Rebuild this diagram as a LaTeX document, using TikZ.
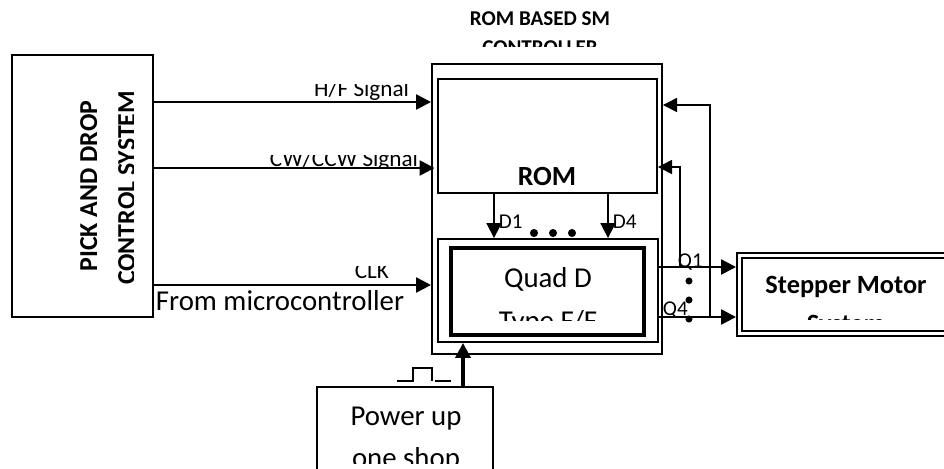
\documentclass[tikz,border=0pt]{standalone}
\usepackage{fontspec}
\setmainfont{Carlito}
\usetikzlibrary{arrows.meta, fit}
\tikzset{
  every picture/.style={line width=1.1pt, x=0.02cm, y=-0.02cm},
  blk/.style={draw, inner sep=0pt, line width=#1},
  blk/.default=1.1pt,
  sig/.style={-{Triangle[length=8.5pt, width=8.5pt]}, line width=1.4pt},
  fback/.style={-{Triangle[length=8pt, width=8pt]}, line width=0.8pt},
  txt/.style={font=\fontsize{#1}{#1}\selectfont, inner sep=0pt},
  btxt/.style={font=\fontsize{#1}{#1}\selectfont\bfseries, inner sep=0pt},
}

\begin{document}
\begin{tikzpicture}
  \useasboundingbox (0,0) rectangle (944,468);
  \clip (0,0) rectangle (944,468);
  % blocks
  \node[blk, fit={(12,55) (153,317)}] (pick) {};
  \node[blk, fit={(432,64) (662,354)}] (ctrl) {};
  \node[blk, fit={(438,79) (657,193)}] (rom) {};
  \node[blk, fit={(438,239) (658,342)}] (ffout) {};
  \node[blk=2.3pt, fit={(451,248) (644,335)}] (ff) {};
  \node[blk, fit={(737,253) (990,336)}] (motor) {};
  \node[blk, fit={(742,258) (985,331)}] (motorin) {};
  \node[blk=0.9pt, fit={(317,387) (493,490)}] (power) {};
  % texts
  \node[btxt=12, anchor=base] (ttl) at (540,25) {ROM BASED SM};
  \begin{scope}
    \clip (400,30) rectangle (700,46);
    \node[btxt=12, anchor=base] (ttlb) at (540,54) {CONTROLLER};
  \end{scope}
  \node[btxt=14.7, anchor=base, rotate=90] (pickt) at (97,186) {PICK AND DROP};
  \begin{scope}
    \clip (100,60) rectangle (133,310);
    \node[btxt=14.7, anchor=base, rotate=90] (pickb) at (135,188) {CONTROL SYSTEM};
  \end{scope}
  \node[btxt=15.8, anchor=base] (romt) at (547,185) {ROM};
  \node[txt=16.4, anchor=base] (fft) at (548,287) {Quad D};
  \begin{scope}
    \clip (460,300) rectangle (640,320);
    \node[txt=16.4, anchor=base] (ffb) at (548,330) {Type F/F};
  \end{scope}
  \node[btxt=15, anchor=base] (motort) at (846,293) {Stepper Motor};
  \begin{scope}
    \clip (750,305) rectangle (940,319.5);
    \node[btxt=15, anchor=base] (motorb) at (846,332) {System};
  \end{scope}
  \node[txt=16.4, anchor=base] (powert) at (406,425) {Power up};
  \begin{scope}
    \clip (330,440) rectangle (480,463);
    \node[txt=16.4, anchor=base] (powerb) at (406,467) {one shop};
  \end{scope}
  \begin{scope}
    \clip (250,84) rectangle (430,101);
    \node[txt=13.2, anchor=base east] (hf) at (410,96) {H/F Signal};
  \end{scope}
  \begin{scope}
    \clip (250,155) rectangle (430,167);
    \node[txt=13.2, anchor=base east] (cw) at (419,166) {CW/CCW Signal};
  \end{scope}
  \begin{scope}
    \clip (340,266) rectangle (400,284);
    \node[txt=13.2, anchor=base east] (clk) at (390,278) {CLK};
  \end{scope}
  \node[txt=16.4, anchor=base west] (from) at (155,310) {From microcontroller};
  \node[txt=12, anchor=base west] (d1) at (498,228) {D1};
  \node[txt=12, anchor=base west] (d4) at (612,228) {D4};
  \node[txt=12, anchor=base west] (q1) at (677,267) {Q1};
  \node[txt=12, anchor=base west] (q4) at (662,315) {Q4};
  % connectors
  \draw[sig] (pick.east |- 0,102) -- (ctrl.west |- 0,102);
  \draw[sig] (pick.east |- 0,168) -- ([xshift=2pt]ctrl.west |- 0,168);
  \draw[sig] (pick.east |- 0,285) -- (ctrl.west |- 0,285);
  \draw[sig, line width=1.1pt] (rom.south -| 494,0) -- (ffout.north -| 494,0);
  \draw[sig, line width=1.1pt] (rom.south -| 608,0) -- (ffout.north -| 608,0);
  \coordinate (j1) at (680,267);
  \coordinate (j4) at (710,317);
  \draw[sig] (ffout.east |- j1) -- (motor.west |- j1);
  \draw[sig] (ffout.east |- j4) -- (motor.west |- j4);
  \draw[fback] (j1) |- (rom.east |- 0,167);
  \draw[fback] (j4) |- (ctrl.east |- 0,105);
  \draw[sig, line width=2pt] (power.north -| 463,0) -- (ffout.south -| 463,0);
  % pulse
  \draw[line width=0.8pt] (397,381) -| (413,368) -| (432,381);
  \draw[line width=0.8pt] (435,381) -- (451,381);
  % dots
  \foreach \x in {534,553,572} \fill (\x,233) circle[radius=2.3pt];
  \foreach \y in {281,300,319} \fill (689,\y) circle[radius=2pt];
\end{tikzpicture}
\end{document}
